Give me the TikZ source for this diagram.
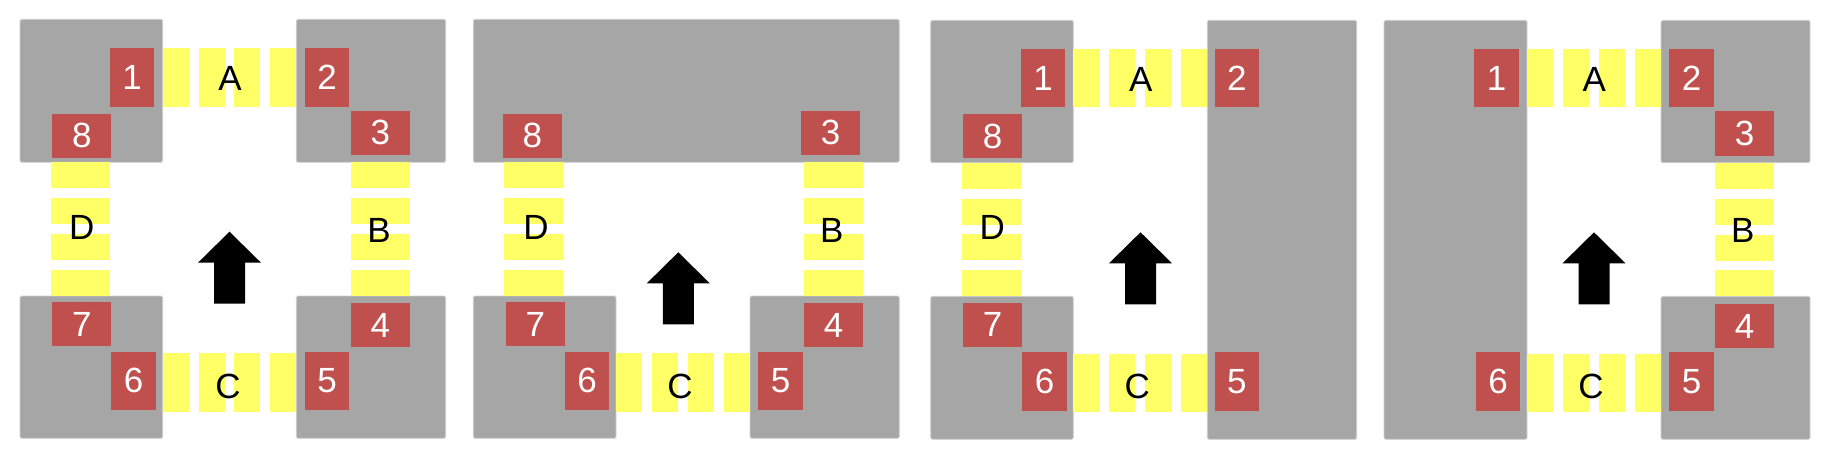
\documentclass[tikz,border=0pt]{standalone}
\usepackage{fontspec}
\setmainfont{Liberation Sans}
\definecolor{blockgray}{HTML}{A6A6A6}
\definecolor{blockedge}{HTML}{CFCFCF}
\definecolor{padred}{HTML}{C0504D}
\definecolor{stripeyellow}{HTML}{FFFF66}
\tikzset{
  block/.style={fill=blockgray,draw=blockedge,line width=0.8pt,rounded corners=1.5pt,inner sep=0pt,outer sep=0pt},
  pad/.style={fill=padred,draw=none,inner sep=0pt,outer sep=0pt,text=white,font=\fontsize{35}{40}\selectfont},
  stripe/.style={fill=stripeyellow,draw=none,inner sep=0pt,outer sep=0pt},
  lab/.style={inner sep=0pt,text=black,font=\fontsize{35}{40}\selectfont},
  bigarrow/.style={fill=black,draw=none}
}
% name, style, x1, y1, x2, y2, text
\newcommand\rbx[7]{\node[#2,minimum width={(#5-#3)*1pt},minimum height={(#6-#4)*1pt}] (#1) at ({(#3+#5)/2},{(#4+#6)/2}) {#7};}
% horizontal channel: prefix, x1, x2, y1, y2
\newcommand\hchan[5]{%
  \pgfmathsetmacro\chw{((#3)-(#2)-3*9.7)/4}%
  \foreach \i in {0,1,2,3}{%
    \pgfmathsetmacro\sx{#2+\i*(\chw+9.7)}%
    \pgfmathsetmacro\ex{\sx+\chw}%
    \rbx{#1\i}{stripe}{\sx}{#4}{\ex}{#5}{}%
  }}
% vertical channel: prefix, x1, x2, y1, y2
\newcommand\vchan[5]{%
  \pgfmathsetmacro\chw{((#5)-(#4)-3*9.7)/4}%
  \foreach \i in {0,1,2,3}{%
    \pgfmathsetmacro\sy{#4+\i*(\chw+9.7)}%
    \pgfmathsetmacro\ey{\sy+\chw}%
    \rbx{#1\i}{stripe}{#2}{\sy}{#3}{\ey}{}%
  }}
\newcommand\uparrowat[1]{\fill[bigarrow] (#1) -- ++(31.5,31) -- ++(-16,0) -- ++(0,41) -- ++(-31,0) -- ++(0,-41) -- ++(-16,0) -- cycle;}
\begin{document}
\begin{tikzpicture}[x=1pt,y=-1pt]
\useasboundingbox (0,0) rectangle (1823,459);
% ---------- panel 1 ----------
\rbx{p1tl}{block}{20}{19.3}{162.7}{162.3}{}
\rbx{p1tr}{block}{296.3}{19.3}{445.7}{162.3}{}
\rbx{p1bl}{block}{20}{296}{162.7}{438.3}{}
\rbx{p1br}{block}{296.3}{296}{445.7}{438.3}{}
\hchan{p1A}{162.7}{296.3}{48.3}{106.7}
\hchan{p1C}{162.7}{296.3}{353.3}{411.7}
\vchan{p1D}{51}{109.7}{162.3}{296}
\vchan{p1B}{351}{409.7}{162.3}{296}
\rbx{p1n1}{pad}{110}{48.3}{154.3}{106.7}{1}
\rbx{p1n2}{pad}{305}{48.3}{349}{106.7}{2}
\rbx{p1n3}{pad}{351}{110.7}{409.7}{155}{3}
\rbx{p1n4}{pad}{351}{303}{409.7}{347.3}{4}
\rbx{p1n5}{pad}{305}{351.7}{349}{410}{5}
\rbx{p1n6}{pad}{111.3}{351.7}{155.7}{410}{6}
\rbx{p1n7}{pad}{52.3}{302}{111.3}{346.3}{7}
\rbx{p1n8}{pad}{52.3}{113.7}{111.3}{157.7}{8}
\node[lab] (p1la) at (230,78.7) {A};
\node[lab] (p1lb) at (379,230.8) {B};
\node[lab] (p1lc) at (228,386) {C};
\node[lab] (p1ld) at (81.7,227.5) {D};
\coordinate (p1arr) at (229.5,231.7);
\uparrowat{p1arr}
% ---------- panel 2 ----------
\rbx{p2top}{block}{473.3}{19.3}{899.3}{162.3}{}
\rbx{p2bl}{block}{473.3}{296}{616}{438.3}{}
\rbx{p2br}{block}{750}{296}{899.3}{438.3}{}
\hchan{p2C}{616}{750}{353.3}{411.7}
\vchan{p2D}{504.3}{563.3}{162.3}{296}
\vchan{p2B}{804.3}{863.3}{162.3}{296}
\rbx{p2n3}{pad}{801}{110.7}{860}{155}{3}
\rbx{p2n4}{pad}{804.3}{303}{863}{347.3}{4}
\rbx{p2n5}{pad}{758.3}{351.7}{802.7}{410}{5}
\rbx{p2n6}{pad}{565}{351.7}{609}{410}{6}
\rbx{p2n7}{pad}{506}{302}{564.7}{346.3}{7}
\rbx{p2n8}{pad}{503}{113.7}{561.7}{157.7}{8}
\node[lab] (p2lb) at (831.7,230.8) {B};
\node[lab] (p2lc) at (680,386) {C};
\node[lab] (p2ld) at (536,227.5) {D};
\coordinate (p2arr) at (678.3,252.3);
\uparrowat{p2arr}
% ---------- panel 3 ----------
\rbx{p3tl}{block}{930.7}{20.3}{1073.3}{162.7}{}
\rbx{p3bl}{block}{930.7}{296.3}{1073.3}{439.3}{}
\rbx{p3r}{block}{1207.3}{20.3}{1356.7}{439.3}{}
\hchan{p3A}{1073.3}{1207.3}{49}{107.3}
\hchan{p3C}{1073.3}{1207.3}{353.7}{412}
\vchan{p3D}{962}{1021}{162.7}{296.3}
\rbx{p3n1}{pad}{1021}{49}{1065.3}{107.3}{1}
\rbx{p3n2}{pad}{1214.7}{49}{1259}{107.3}{2}
\rbx{p3n5}{pad}{1214.7}{352}{1259}{410.7}{5}
\rbx{p3n6}{pad}{1022.3}{352}{1066.7}{410.7}{6}
\rbx{p3n7}{pad}{963.3}{302.7}{1022}{346.7}{7}
\rbx{p3n8}{pad}{963.3}{114}{1022}{158}{8}
\node[lab] (p3la) at (1140.7,79) {A};
\node[lab] (p3lc) at (1137.3,386) {C};
\node[lab] (p3ld) at (992.3,227.5) {D};
\coordinate (p3arr) at (1140.5,232.3);
\uparrowat{p3arr}
% ---------- panel 4 ----------
\rbx{p4l}{block}{1384}{20.3}{1527}{439.3}{}
\rbx{p4tr}{block}{1661}{20.3}{1810}{162.7}{}
\rbx{p4br}{block}{1661}{296.3}{1810}{439.3}{}
\hchan{p4A}{1527}{1661}{49}{107.3}
\hchan{p4C}{1527}{1661}{353.7}{412.3}
\vchan{p4B}{1715}{1774}{163}{296.3}
\rbx{p4n1}{pad}{1474.3}{49}{1518.7}{107.3}{1}
\rbx{p4n2}{pad}{1669.3}{49}{1713.7}{107.3}{2}
\rbx{p4n3}{pad}{1715}{111.3}{1774}{155.7}{3}
\rbx{p4n4}{pad}{1715}{304}{1774}{348.3}{4}
\rbx{p4n5}{pad}{1669.3}{352.3}{1713.7}{410.7}{5}
\rbx{p4n6}{pad}{1476}{352.3}{1520}{410.7}{6}
\node[lab] (p4la) at (1594.3,79) {A};
\node[lab] (p4lb) at (1742.7,230.8) {B};
\node[lab] (p4lc) at (1591,386) {C};
\coordinate (p4arr) at (1594,232.3);
\uparrowat{p4arr}
\end{tikzpicture}
\end{document}
